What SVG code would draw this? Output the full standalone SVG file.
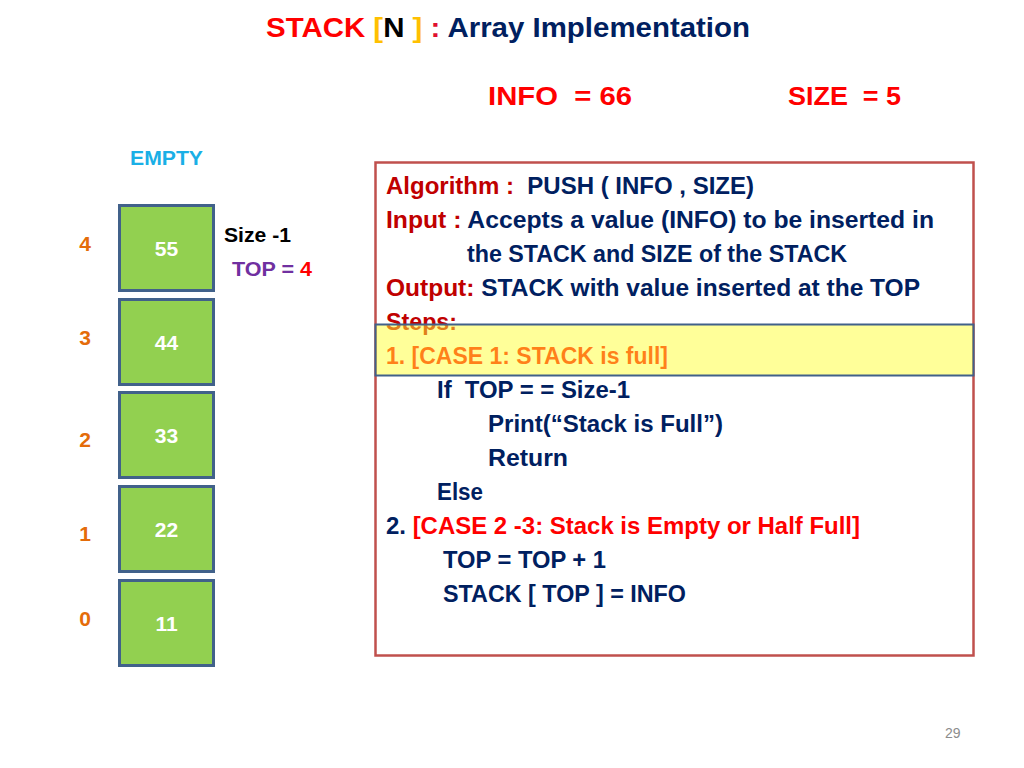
<svg xmlns="http://www.w3.org/2000/svg" width="1024" height="768" viewBox="0 0 1024 768" xml:space="preserve">
<style>
text{font-family:"Liberation Sans","Open Sans",Arial,sans-serif;font-weight:bold;white-space:pre}
.cell{fill:#92D050;stroke:#41618A;stroke-width:3}
.val{fill:#FFFFFF;font-size:21px;text-anchor:middle}
.idx{fill:#E46C0A;font-size:21px;text-anchor:middle}
.alg{font-size:23px;fill:#002060}
.lbl{fill:#C00000}
.red{fill:#FF0000}
</style>
<rect width="1024" height="768" fill="#FFFFFF"/>
<g id="title"><text x="266" y="37" font-size="28" textLength="484" lengthAdjust="spacingAndGlyphs"><tspan fill="#FF0000">STACK </tspan><tspan fill="#FFC000">[</tspan><tspan fill="#000000">N </tspan><tspan fill="#FFC000">]</tspan><tspan fill="#E0102F"> : </tspan><tspan fill="#002060">Array Implementation</tspan></text></g>
<g id="info"><text x="488" y="105" font-size="26" fill="#FF0000" textLength="144" lengthAdjust="spacingAndGlyphs">INFO  = 66</text></g>
<g id="size"><text x="788" y="105" font-size="26" fill="#FF0000" textLength="113" lengthAdjust="spacingAndGlyphs">SIZE  = 5</text></g>
<g id="empty"><text x="130" y="165" font-size="20" fill="#1AAFE6" textLength="73" lengthAdjust="spacingAndGlyphs">EMPTY</text></g>
<g id="cell4"><rect class="cell" x="119.5" y="205.5" width="94" height="85"/><text class="val" x="166.5" y="256">55</text><text class="idx" x="85" y="251">4</text></g>
<g id="cell3"><rect class="cell" x="119.5" y="299.5" width="94" height="85"/><text class="val" x="166.5" y="350">44</text><text class="idx" x="85" y="345">3</text></g>
<g id="cell2"><rect class="cell" x="119.5" y="392.5" width="94" height="85"/><text class="val" x="166.5" y="443">33</text><text class="idx" x="85" y="447">2</text></g>
<g id="cell1"><rect class="cell" x="119.5" y="486.5" width="94" height="85"/><text class="val" x="166.5" y="537">22</text><text class="idx" x="85" y="541">1</text></g>
<g id="cell0"><rect class="cell" x="119.5" y="580.5" width="94" height="85"/><text class="val" x="166.5" y="631">11</text><text class="idx" x="85" y="626">0</text></g>
<g id="sizeminus1"><text x="224" y="242" font-size="20" fill="#000000" textLength="67" lengthAdjust="spacingAndGlyphs">Size -1</text></g>
<g id="top"><text x="232" y="276" font-size="20" textLength="80" lengthAdjust="spacingAndGlyphs"><tspan fill="#7030A0">TOP = </tspan><tspan fill="#FF0000">4</tspan></text></g>
<g id="algorithm">
<rect x="375.5" y="162.5" width="598" height="493" fill="#FFFFFF" stroke="#C0504D" stroke-width="2.5"/>
<text class="alg" x="386" y="194" textLength="368" lengthAdjust="spacingAndGlyphs"><tspan class="lbl">Algorithm :  </tspan>PUSH ( INFO , SIZE)</text>
<text class="alg" x="386" y="228" textLength="548" lengthAdjust="spacingAndGlyphs"><tspan class="lbl">Input : </tspan>Accepts a value (INFO) to be inserted in</text>
<text class="alg" x="467" y="262" textLength="380" lengthAdjust="spacingAndGlyphs">the STACK and SIZE of the STACK</text>
<text class="alg" x="386" y="296" textLength="534" lengthAdjust="spacingAndGlyphs"><tspan class="lbl">Output: </tspan>STACK with value inserted at the TOP</text>
<text class="alg lbl" x="386" y="330" textLength="71" lengthAdjust="spacingAndGlyphs">Steps:</text>
<text class="alg red" x="386" y="364" textLength="282" lengthAdjust="spacingAndGlyphs">1. [CASE 1: STACK is full]</text>
<rect x="375.5" y="324.5" width="598" height="51" fill="#FFFF33" fill-opacity="0.5" stroke="#41618A" stroke-width="2"/>
<text class="alg" x="437" y="398" textLength="193" lengthAdjust="spacingAndGlyphs">If  TOP = = Size-1</text>
<text class="alg" x="488" y="432" textLength="235" lengthAdjust="spacingAndGlyphs">Print(“Stack is Full”)</text>
<text class="alg" x="488" y="466" textLength="80" lengthAdjust="spacingAndGlyphs">Return</text>
<text class="alg" x="437" y="500" textLength="46" lengthAdjust="spacingAndGlyphs">Else</text>
<text class="alg" x="386" y="534" textLength="474" lengthAdjust="spacingAndGlyphs">2. <tspan class="red">[CASE 2 -3: Stack is Empty or Half Full]</tspan></text>
<text class="alg" x="443" y="568" textLength="163" lengthAdjust="spacingAndGlyphs">TOP = TOP + 1</text>
<text class="alg" x="443" y="602" textLength="243" lengthAdjust="spacingAndGlyphs">STACK [ TOP ] = INFO</text>
</g>
<g id="connectors"/>
<g id="page"><text x="945" y="738" font-size="14" fill="#8C8C8C" style="font-weight:normal">29</text></g>
</svg>
